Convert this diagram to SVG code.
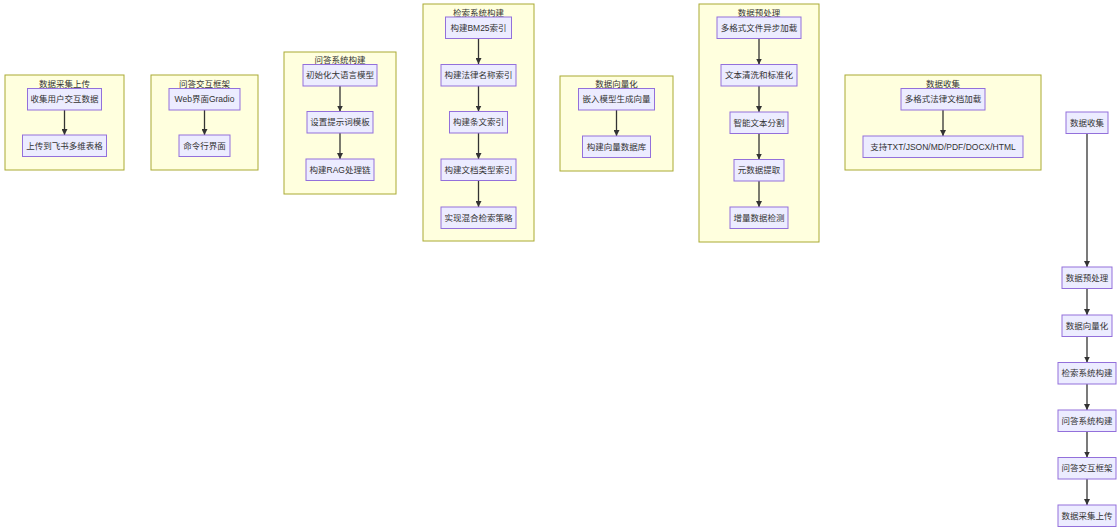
<svg xmlns="http://www.w3.org/2000/svg" width="1120" height="532" viewBox="0 0 1120 532">
<style>
.cl{fill:#ffffde;stroke:#aaaa33;stroke-width:1}
.nd{fill:#ececff;stroke:#9370db;stroke-width:1}
text{font-family:"Liberation Sans","Noto Sans CJK SC",sans-serif;font-size:8.5px;fill:#333;text-anchor:middle;dominant-baseline:central}
.ed{stroke:#333;stroke-width:1.3;fill:none;marker-end:url(#arr)}
</style>
<defs>
<marker id="arr" viewBox="0 0 10 10" refX="10" refY="5" markerWidth="6" markerHeight="6" orient="auto" markerUnits="userSpaceOnUse"><path d="M0,0 L10,5 L0,10 z" fill="#333"/></marker>
</defs>
<g id="cluster-upload">
<rect class="cl" x="5" y="75" width="119" height="95"/><text x="64.5" y="84">数据采集上传</text>
</g>
<g id="cluster-ui">
<rect class="cl" x="151" y="75" width="107" height="95"/><text x="204.5" y="84">问答交互框架</text>
</g>
<g id="cluster-qa">
<rect class="cl" x="284" y="52" width="112" height="142"/><text x="340" y="60">问答系统构建</text>
</g>
<g id="cluster-retrieval">
<rect class="cl" x="423" y="4" width="111" height="237"/><text x="478.5" y="13">检索系统构建</text>
</g>
<g id="cluster-vector">
<rect class="cl" x="560" y="76" width="113" height="95"/><text x="616.5" y="84">数据向量化</text>
</g>
<g id="cluster-preprocess">
<rect class="cl" x="699" y="4" width="120" height="238"/><text x="759" y="13">数据预处理</text>
</g>
<g id="cluster-collect">
<rect class="cl" x="845" y="75" width="196" height="95"/><text x="943" y="84">数据收集</text>
</g>
<g id="connectors">
<line class="ed" x1="64.5" y1="110" x2="64.5" y2="135"/>
<line class="ed" x1="204.5" y1="110" x2="204.5" y2="135"/>
<line class="ed" x1="340" y1="86" x2="340" y2="111.5"/>
<line class="ed" x1="340" y1="133" x2="340" y2="159"/>
<line class="ed" x1="478.5" y1="38.5" x2="478.5" y2="64"/>
<line class="ed" x1="478.5" y1="86" x2="478.5" y2="111.5"/>
<line class="ed" x1="478.5" y1="133" x2="478.5" y2="159"/>
<line class="ed" x1="478.5" y1="181" x2="478.5" y2="207"/>
<line class="ed" x1="616.5" y1="110" x2="616.5" y2="136"/>
<line class="ed" x1="759" y1="38.5" x2="759" y2="64.5"/>
<line class="ed" x1="759" y1="86" x2="759" y2="112"/>
<line class="ed" x1="759" y1="133.5" x2="759" y2="159.5"/>
<line class="ed" x1="759" y1="181" x2="759" y2="207"/>
<line class="ed" x1="943" y1="110" x2="943" y2="136"/>
<line class="ed" x1="1087" y1="133.5" x2="1087" y2="267"/>
<line class="ed" x1="1087" y1="288.5" x2="1087" y2="315"/>
<line class="ed" x1="1087" y1="336.5" x2="1087" y2="362.5"/>
<line class="ed" x1="1087" y1="384" x2="1087" y2="410"/>
<line class="ed" x1="1087" y1="431.5" x2="1087" y2="457.5"/>
<line class="ed" x1="1087" y1="479" x2="1087" y2="505"/>
</g>
<g id="n-collect-user"><rect class="nd" x="27.5" y="88.5" width="74" height="21.5"/><text x="64.5" y="99.3">收集用户交互数据</text></g>
<g id="n-upload-feishu"><rect class="nd" x="22.5" y="135" width="84" height="21.5"/><text x="64.5" y="145.8">上传到飞书多维表格</text></g>
<g id="n-web"><rect class="nd" x="169" y="88.5" width="71" height="21.5"/><text x="204.5" y="99.3">Web界面Gradio</text></g>
<g id="n-cli"><rect class="nd" x="179" y="135" width="51" height="21.5"/><text x="204.5" y="145.8">命令行界面</text></g>
<g id="n-llm"><rect class="nd" x="303" y="64.5" width="74" height="21.5"/><text x="340" y="75.3">初始化大语言模型</text></g>
<g id="n-prompt"><rect class="nd" x="307" y="111.5" width="66" height="21.5"/><text x="340" y="122.3">设置提示词模板</text></g>
<g id="n-rag"><rect class="nd" x="306" y="159" width="68" height="21.5"/><text x="340" y="169.8">构建RAG处理链</text></g>
<g id="n-bm25"><rect class="nd" x="445.5" y="17" width="66" height="21.5"/><text x="478.5" y="27.8">构建BM25索引</text></g>
<g id="n-lawname"><rect class="nd" x="441" y="64.5" width="75" height="21.5"/><text x="478.5" y="75.3">构建法律名称索引</text></g>
<g id="n-article"><rect class="nd" x="449.5" y="111.5" width="58" height="21.5"/><text x="478.5" y="122.3">构建条文索引</text></g>
<g id="n-doctype"><rect class="nd" x="441" y="159" width="75" height="21.5"/><text x="478.5" y="169.8">构建文档类型索引</text></g>
<g id="n-hybrid"><rect class="nd" x="441" y="207" width="75" height="21.5"/><text x="478.5" y="217.8">实现混合检索策略</text></g>
<g id="n-embed"><rect class="nd" x="578.5" y="88.5" width="76" height="21.5"/><text x="616.5" y="99.3">嵌入模型生成向量</text></g>
<g id="n-vdb"><rect class="nd" x="582.5" y="136" width="68" height="21.5"/><text x="616.5" y="146.8">构建向量数据库</text></g>
<g id="n-async"><rect class="nd" x="717" y="17" width="84" height="21.5"/><text x="759" y="27.8">多格式文件异步加载</text></g>
<g id="n-clean"><rect class="nd" x="721" y="64.5" width="76" height="21.5"/><text x="759" y="75.3">文本清洗和标准化</text></g>
<g id="n-split"><rect class="nd" x="730" y="112" width="58" height="21.5"/><text x="759" y="122.8">智能文本分割</text></g>
<g id="n-meta"><rect class="nd" x="734" y="159.5" width="50" height="21.5"/><text x="759" y="170.3">元数据提取</text></g>
<g id="n-incr"><rect class="nd" x="730" y="207" width="58" height="21.5"/><text x="759" y="217.8">增量数据检测</text></g>
<g id="n-lawload"><rect class="nd" x="901" y="88.5" width="84" height="21.5"/><text x="943" y="99.3">多格式法律文档加载</text></g>
<g id="n-formats"><rect class="nd" x="863" y="136" width="160" height="21.5"/><text x="943" y="146.8">支持TXT/JSON/MD/PDF/DOCX/HTML</text></g>
<g id="s-collect"><rect class="nd" x="1066" y="112" width="42" height="21.5"/><text x="1087" y="122.8">数据收集</text></g>
<g id="s-preprocess"><rect class="nd" x="1062" y="267" width="50" height="21.5"/><text x="1087" y="277.8">数据预处理</text></g>
<g id="s-vector"><rect class="nd" x="1062" y="315" width="50" height="21.5"/><text x="1087" y="325.8">数据向量化</text></g>
<g id="s-retrieval"><rect class="nd" x="1058" y="362.5" width="58" height="21.5"/><text x="1087" y="373.3">检索系统构建</text></g>
<g id="s-qa"><rect class="nd" x="1058" y="410" width="58" height="21.5"/><text x="1087" y="420.8">问答系统构建</text></g>
<g id="s-ui"><rect class="nd" x="1058" y="457.5" width="58" height="21.5"/><text x="1087" y="468.3">问答交互框架</text></g>
<g id="s-upload"><rect class="nd" x="1058" y="505" width="58" height="21.5"/><text x="1087" y="515.8">数据采集上传</text></g>
</svg>
